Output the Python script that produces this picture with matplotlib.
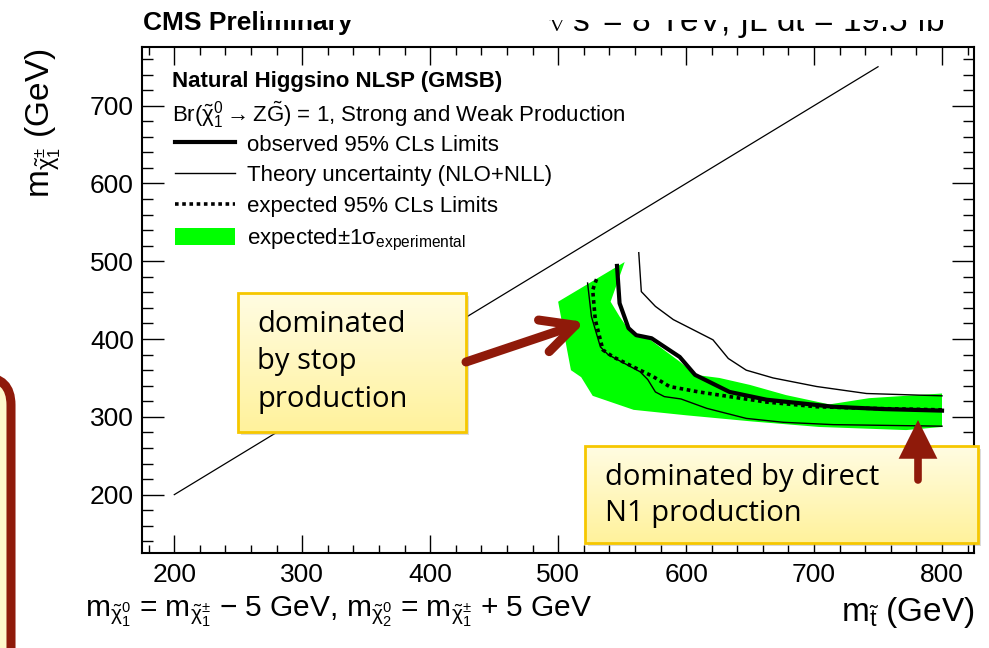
import numpy as np
import matplotlib
matplotlib.use("Agg")
import matplotlib.pyplot as plt
from matplotlib.patches import Rectangle, FancyBboxPatch, FancyArrowPatch, ArrowStyle
from matplotlib.colors import LinearSegmentedColormap
from matplotlib.ticker import MultipleLocator

plt.rcParams['font.family'] = ['Liberation Sans', 'DejaVu Sans']
plt.rcParams['mathtext.fontset'] = 'custom'
plt.rcParams['mathtext.rm'] = 'Liberation Sans'
plt.rcParams['mathtext.it'] = 'Liberation Sans'
plt.rcParams['mathtext.bf'] = 'Liberation Sans:bold'

# ---------------- data ----------------
diag_x = [200, 750]
diag_y = [200, 750]

obs_x = [546, 548, 555, 561, 573, 595, 607, 634, 663, 715, 754, 800]
obs_y = [494, 446, 414, 405, 401, 377, 354, 332, 322, 313, 310, 308]

exp_x = [530, 527, 529, 535, 543, 564, 574, 587, 610, 634, 663, 702, 741, 800]
exp_y = [477, 463, 425, 386, 377, 360, 352, 339, 332, 326, 319, 313, 311, 309]

theo_up_x = [563, 565, 576, 590, 621, 633, 647, 668, 702, 741, 800]
theo_up_y = [511, 461, 442, 425, 399, 375, 360, 350, 339, 330, 327]

theo_dn_x = [523, 526, 533, 539, 564, 570, 576, 583, 596, 616, 647, 676, 715, 800]
theo_dn_y = [472, 429, 390, 380, 358, 348, 332, 326, 323, 311, 298, 293, 290, 288]

band_up_x = [500, 552, 541, 548, 556, 572, 595, 607, 626, 650, 678, 712, 743, 800]
band_up_y = [448, 499, 448, 429, 410, 399, 371, 354, 350, 341, 328, 316, 324, 330]
band_lo_x = [500, 507, 510, 518, 527, 559, 600, 652, 704, 772, 800]
band_lo_y = [448, 386, 360, 351, 327, 309, 302, 294, 287, 283, 287]

x_ticks = [200, 300, 400, 500, 600, 700, 800]
y_ticks = [200, 300, 400, 500, 600, 700]

legend_labels = ["observed 95% CLs Limits",
                 "Theory uncertainty (NLO+NLL)",
                 "expected 95% CLs Limits",
                 r"expected$\pm$1$\sigma_{\mathrm{experimental}}$"]

# ---------------- figure ----------------
W, H = 989, 648
fig = plt.figure(figsize=(W / 100, H / 100), dpi=100)
fig.patch.set_facecolor('white')

L, R, T, B = 142.3, 974.0, 47.3, 553.0
ax = fig.add_axes([L / W, 1 - B / H, (R - L) / W, (B - T) / H])
ax.set_xlim(175, 825)
ax.set_ylim(125, 775)

GREEN = '#00FF00'
band_poly_x = band_up_x + band_lo_x[::-1]
band_poly_y = band_up_y + band_lo_y[::-1]
band = ax.fill(band_poly_x, band_poly_y, color=GREEN, lw=0, zorder=1)[0]

ax.plot(diag_x, diag_y, color='black', lw=0.9, zorder=2)
theo1, = ax.plot(theo_up_x, theo_up_y, color='black', lw=1.0, zorder=3)
ax.plot(theo_dn_x, theo_dn_y, color='black', lw=1.0, zorder=3)
exp_line, = ax.plot(exp_x, exp_y, color='black', lw=2.6, ls=(0, (1.0, 1.0)), zorder=4)
obs_line, = ax.plot(obs_x, obs_y, color='black', lw=3.0, zorder=5, solid_joinstyle='round')

ax.set_xticks(x_ticks)
ax.set_yticks(y_ticks)
ax.xaxis.set_minor_locator(MultipleLocator(20))
ax.yaxis.set_minor_locator(MultipleLocator(20))
ax.tick_params(axis='both', which='both', direction='in', top=True, right=True,
               labelsize=19, width=1.0, color='black')
ax.tick_params(axis='x', which='major', length=13, pad=7)
ax.tick_params(axis='x', which='minor', length=6)
ax.tick_params(axis='y', which='major', length=16, pad=6)
ax.tick_params(axis='y', which='minor', length=8)
for s in ax.spines.values():
    s.set_linewidth(1.5)

# legend
leg = ax.legend([obs_line, theo1, exp_line, band], legend_labels,
                loc='upper left', bbox_to_anchor=(175 / W, 1 - 134 / H),
                bbox_transform=fig.transFigure, frameon=False, fontsize=16,
                borderpad=0, borderaxespad=0, handlelength=2.7,
                handletextpad=0.55, labelspacing=0.42, handleheight=0.85)

# ---------------- overlay (pixel coordinates) ----------------
ov = fig.add_axes([0, 0, 1, 1], zorder=10)
ov.set_xlim(0, W)
ov.set_ylim(H, 0)
ov.axis('off')
ov.patch.set_alpha(0)
ov.set_autoscale_on(False)

ov.text(172, 82, "Natural Higgsino NLSP (GMSB)", fontsize=16, fontweight='bold',
        ha='left', va='center')
ov.text(172, 115, r"Br($\tilde{\chi}_{1}^{0}\rightarrow Z\tilde{G}$) = 1, Strong and Weak Production",
        fontsize=16, ha='left', va='center')

# axis labels
ov.text(49, 123, r"m$_{\tilde{\chi}_{1}^{\pm}}$ (GeV)", fontsize=24, rotation=90,
        rotation_mode='anchor', ha='center', va='baseline')
ov.text(975, 621, r"m$_{\tilde{t}}$ (GeV)", fontsize=24, ha='right', va='baseline')
ov.text(85, 617, r"m$_{\tilde{\chi}_{1}^{0}}$ = m$_{\tilde{\chi}_{1}^{\pm}}$ $-$ 5 GeV, m$_{\tilde{\chi}_{2}^{0}}$ = m$_{\tilde{\chi}_{1}^{\pm}}$ + 5 GeV",
        fontsize=21.5, ha='left', va='baseline')

# header texts (partly hidden by a white slide element)
ov.text(143, 30, "CMS Preliminary", fontsize=19, fontweight='bold', ha='left', va='baseline')
ov.text(972, 32, r"$\sqrt{s}$ = 8 TeV, $\int$L dt = 19.5 fb$^{-1}$", fontsize=24,
        ha='right', va='baseline')
ov.add_patch(Rectangle((263, -5), 760, 25, facecolor='white', edgecolor='none', zorder=5))

# left slide element
ov.add_patch(FancyBboxPatch((-100, 377), 111, 400,
                            boxstyle='round,pad=0,rounding_size=28',
                            facecolor='#FFF8CC', edgecolor='#8F1A0A', lw=6.5, zorder=2))

cmap = LinearSegmentedColormap.from_list('yl', ['#FFFCE2', '#FFF29C'])
GOLD = '#F6C700'
DARKRED = '#8F1A0A'
NOTE_FONT = ['Open Sans', 'DejaVu Sans']

def note_box(x0, y0, x1, y1):
    ov.add_patch(Rectangle((x0 + 3, y0 + 3), x1 - x0, y1 - y0, facecolor='#999999',
                           alpha=0.35, edgecolor='none', zorder=3))
    grad = np.linspace(0, 1, 64).reshape(-1, 1)
    ov.imshow(grad, extent=(x0, x1, y1, y0), cmap=cmap, aspect='auto', zorder=4,
              interpolation='bilinear')
    ov.add_patch(Rectangle((x0, y0), x1 - x0, y1 - y0, fill=False, edgecolor=GOLD,
                           lw=2, zorder=5))

note_box(238, 293, 466, 432)
for txt, yy in [("dominated", 325), ("by stop", 362), ("production", 399)]:
    ov.text(257, yy, txt, fontsize=21, family=NOTE_FONT, ha='left', va='center', zorder=6)

note_box(585, 446, 978, 543)
for txt, yy in [("dominated by direct", 477), ("N1 production", 514)]:
    ov.text(605, yy, txt, fontsize=21, family=NOTE_FONT, ha='left', va='center', zorder=6)

a1 = FancyArrowPatch((466, 362), (585, 322),
                     arrowstyle=ArrowStyle('->', head_length=2.4, head_width=1.2),
                     mutation_scale=10, color=DARKRED, lw=6.5, capstyle='round',
                     joinstyle='round', shrinkA=0, shrinkB=0, zorder=7)
ov.add_patch(a1)
a2 = FancyArrowPatch((918, 480), (918, 420),
                     arrowstyle=ArrowStyle('-|>', head_length=1.9, head_width=0.95),
                     mutation_scale=10, color=DARKRED, lw=5.5, shrinkA=0, shrinkB=0,
                     joinstyle='miter', zorder=7)
ov.add_patch(a2)

fig.savefig('out.png', dpi=100)
